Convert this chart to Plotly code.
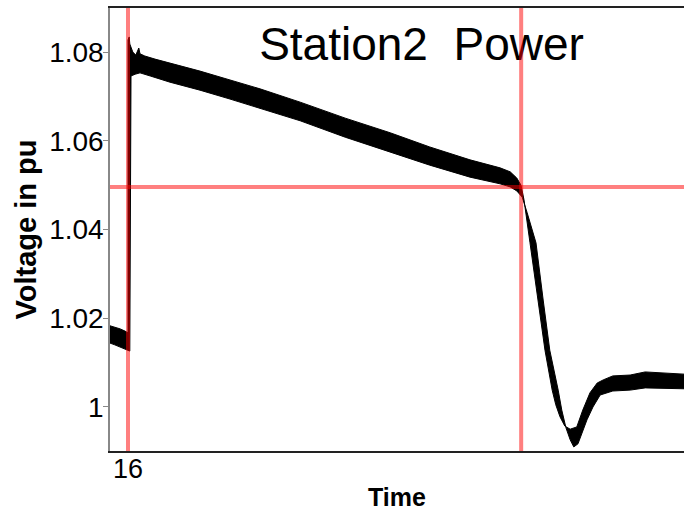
import plotly.graph_objects as go

# Upper (top/left) edge of the measured noise band
time_upper = [15.970, 15.978, 15.987, 15.995, 16.000, 16.000, 16.002, 16.003, 16.005, 16.008,
              16.013, 16.017, 16.018, 16.020, 16.028, 16.045, 16.070, 16.120, 16.170, 16.220,
              16.287, 16.362, 16.437, 16.503, 16.570, 16.620, 16.637, 16.648, 16.655, 16.660,
              16.670, 16.683, 16.695, 16.707, 16.713, 16.720, 16.728, 16.737, 16.748, 16.758,
              16.770, 16.782, 16.792, 16.808, 16.837, 16.862, 16.887, 16.927]
volt_upper = [1.0183, 1.0180, 1.0176, 1.0171, 1.0167, 1.0827, 1.0834, 1.0818, 1.0811, 1.0800,
              1.0793, 1.0807, 1.0809, 1.0796, 1.0791, 1.0784, 1.0775, 1.0757, 1.0737, 1.0717,
              1.0687, 1.0651, 1.0618, 1.0586, 1.0557, 1.0539, 1.0530, 1.0516, 1.0500, 1.0467,
              1.0370, 1.0241, 1.0128, 1.0038, 1.0005, 0.9978, 0.9957, 0.9950, 0.9955, 0.9993,
              1.0032, 1.0054, 1.0061, 1.0070, 1.0072, 1.0079, 1.0077, 1.0074]

# Lower (bottom/right) edge of the measured noise band
time_lower = [15.970, 15.978, 15.987, 15.995, 16.003, 16.005, 16.012, 16.020, 16.037, 16.070,
              16.120, 16.170, 16.220, 16.287, 16.362, 16.437, 16.503, 16.570, 16.620, 16.637,
              16.648, 16.657, 16.665, 16.680, 16.692, 16.703, 16.717, 16.723, 16.730, 16.737,
              16.743, 16.750, 16.755, 16.765, 16.775, 16.787, 16.808, 16.837, 16.862, 16.887,
              16.927]
volt_lower = [1.0144, 1.0140, 1.0135, 1.0131, 1.0126, 1.0746, 1.0750, 1.0753, 1.0746, 1.0732,
              1.0714, 1.0694, 1.0674, 1.0645, 1.0608, 1.0575, 1.0545, 1.0518, 1.0503, 1.0496,
              1.0487, 1.0473, 1.0439, 1.0370, 1.0241, 1.0128, 1.0038, 0.9993, 0.9953, 0.9926,
              0.9910, 0.9917, 0.9932, 0.9971, 1.0000, 1.0027, 1.0036, 1.0038, 1.0043, 1.0043,
              1.0041]

event_times = [16.0, 16.6553]
threshold_voltage = [1.0496]
x_tick_vals = [16]
x_tick_text = ["16"]
y_tick_vals = [1.0, 1.02, 1.04, 1.06, 1.08]
y_tick_text = ["1", "1.02", "1.04", "1.06", "1.08"]
chart_title = "Station2  Power"

FONT = "Liberation Sans, Arial, sans-serif"

poly_x = time_upper + time_lower[::-1]
poly_y = volt_upper + volt_lower[::-1]

fig = go.Figure()
fig.add_trace(go.Scatter(
    x=poly_x, y=poly_y, mode="lines", fill="toself",
    fillcolor="black", line=dict(color="black", width=1),
    hoverinfo="skip", showlegend=False))

# title drawn as text mark so the red marker lines sit on top of it
fig.add_trace(go.Scatter(
    x=[16.4892], y=[1.0808], mode="text", text=[chart_title],
    textposition="middle center",
    textfont=dict(family=FONT, size=46, color="black"),
    hoverinfo="skip", showlegend=False))

for t in event_times:
    fig.add_shape(type="line", xref="x", yref="paper", x0=t, x1=t, y0=0, y1=1,
                  line=dict(color="rgba(255,0,0,0.5)", width=4), layer="above")
for v in threshold_voltage:
    fig.add_shape(type="line", xref="paper", yref="y", x0=0, x1=1, y0=v, y1=v,
                  line=dict(color="rgba(255,0,0,0.5)", width=4), layer="above")

fig.update_layout(
    width=684, height=512,
    margin=dict(l=110, r=0, t=8, b=61),
    paper_bgcolor="white", plot_bgcolor="white",
    showlegend=False,
    xaxis=dict(
        range=[15.97, 16.9267], tickvals=x_tick_vals, ticktext=x_tick_text,
        ticks="", showgrid=False, zeroline=False,
        showline=True, linecolor="#222222", linewidth=1.5, mirror=True,
        tickfont=dict(family=FONT, size=27, color="black"),
        ticklabelstandoff=-7,
        title=dict(text="<b>Time</b>", font=dict(family=FONT, size=25, color="black"), standoff=5),
    ),
    yaxis=dict(
        range=[0.99008, 1.08992], tickvals=y_tick_vals, ticktext=y_tick_text,
        ticks="outside", ticklen=5, tickcolor="#888888", tickwidth=1,
        showgrid=False, zeroline=False,
        showline=True, linecolor="#888888", linewidth=1.5, mirror=False,
        tickfont=dict(family=FONT, size=28, color="black"),
        ticklabelstandoff=-6,
        title=dict(text="<b>Voltage in pu</b>", font=dict(family=FONT, size=29, color="black"), standoff=4),
    ),
)

fig.write_html("out.html", config={"displayModeBar": False},
               post_script="document.body.style.margin='0';document.body.style.overflow='hidden';")
